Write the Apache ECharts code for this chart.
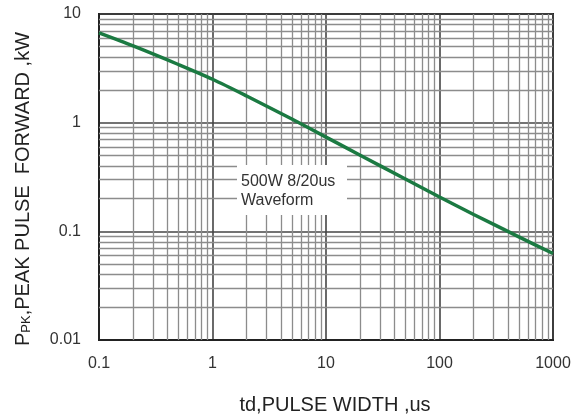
<!DOCTYPE html>
<html>
<head>
<meta charset="utf-8">
<script src="https://cdn.jsdelivr.net/npm/echarts@6/dist/echarts.min.js"></script>
<style>
html,body{margin:0;padding:0;background:#fff;}
#chart{width:573px;height:414px;}
</style>
</head>
<body>
<div id="chart"></div>
<script>
// Pulse width (us)
var pulseWidth = [0.1, 0.2, 0.5, 1, 2, 5, 10, 20, 50, 100, 200, 500, 1000];
// Peak pulse power (kW)
var peakPower = [6.7, 5.08, 3.43, 2.51, 1.76, 1.08, 0.736, 0.502, 0.303, 0.207, 0.143, 0.089, 0.0625];
var xTickLabels = ['0.1', '1', '10', '100', '1000'];
var yTickLabels = ['0.01', '0.1', '1', '10'];
var xDecades = [0.1, 1, 10, 100];
var yDecades = [0.01, 0.1, 1];
var minorMultipliers = [2, 3, 4, 5, 6, 7, 8, 9];
var annotationLines = ['500W 8/20us', 'Waveform'];

var minorLines = [];
xDecades.forEach(function (d) {
  minorMultipliers.forEach(function (m) { minorLines.push({ xAxis: +(d * m).toPrecision(3) }); });
});
yDecades.forEach(function (d) {
  minorMultipliers.forEach(function (m) { minorLines.push({ yAxis: +(d * m).toPrecision(3) }); });
});

var data = pulseWidth.map(function (x, i) { return [x, peakPower[i]]; });

function labelFromList(list, minExp) {
  return function (v) {
    var idx = Math.round(Math.log10(v)) - minExp;
    return list[idx] !== undefined ? list[idx] : '';
  };
}

var chart = echarts.init(document.getElementById('chart'), null, { renderer: 'canvas' });
var font = '"Liberation Sans", Arial, sans-serif';
chart.setOption({
  animation: false,
  backgroundColor: '#fff',
  grid: {
    left: 99, right: 20, top: 14, bottom: 74,
    outerBoundsMode: 'none',
    containLabel: false,
    show: true, borderColor: '#222', borderWidth: 2, backgroundColor: 'transparent'
  },
  xAxis: {
    type: 'log', logBase: 10, min: 0.1, max: 1000,
    name: 'td,PULSE WIDTH ,us',
    nameLocation: 'middle', nameGap: 55,
    nameTextStyle: { fontFamily: font, fontSize: 20, color: '#222', padding: [0, 0, 0, 18] },
    axisLine: { show: true, lineStyle: { color: '#222', width: 2 } },
    axisTick: { show: false },
    axisLabel: { fontFamily: font, fontSize: 16, color: '#333', margin: 16, formatter: labelFromList(xTickLabels, -1) },
    splitLine: { show: true, lineStyle: { color: '#444', width: 1.6 } },
    minorSplitLine: { show: false }
  },
  yAxis: {
    type: 'log', logBase: 10, min: 0.01, max: 10,
    name: '{b|P}{s|PK}{b|,PEAK PULSE  FORWARD ,kW}',
    nameLocation: 'middle', nameGap: 66, nameRotate: 90,
    nameTextStyle: {
      fontFamily: font, fontSize: 20, color: '#222', padding: [0, 24, 0, 0],
      rich: {
        b: { fontFamily: font, fontSize: 20, color: '#222' },
        s: { fontFamily: font, fontSize: 13, color: '#222', verticalAlign: 'bottom', padding: [6, 0, 0, 0] }
      }
    },
    axisLine: { show: true, lineStyle: { color: '#222', width: 2 } },
    axisTick: { show: false },
    axisLabel: { fontFamily: font, fontSize: 16, color: '#333', margin: 18, formatter: labelFromList(yTickLabels, -2) },
    splitLine: { show: true, lineStyle: { color: '#444', width: 1.6 } }
  },
  graphic: [
    {
      type: 'rect', z: 50,
      shape: { x: 237, y: 165, width: 110, height: 50 },
      style: { fill: '#fff' }
    },
    {
      type: 'text', z: 51, x: 241, y: 172,
      style: {
        text: annotationLines.join('\n'),
        fontFamily: font, fontSize: 16, lineHeight: 19, fill: '#333'
      }
    }
  ],
  series: [{
    type: 'line',
    data: data,
    smooth: 0.3,
    showSymbol: false,
    z: 60,
    lineStyle: { color: '#1b7a42', width: 3.5 },
    markLine: {
      silent: true, symbol: ['none', 'none'], animation: false,
      label: { show: false },
      emphasis: { disabled: true },
      lineStyle: { color: '#8c8c8c', width: 1.3, type: 'solid' },
      data: minorLines,
      z: 1
    }
  }]
});
</script>
</body>
</html>
